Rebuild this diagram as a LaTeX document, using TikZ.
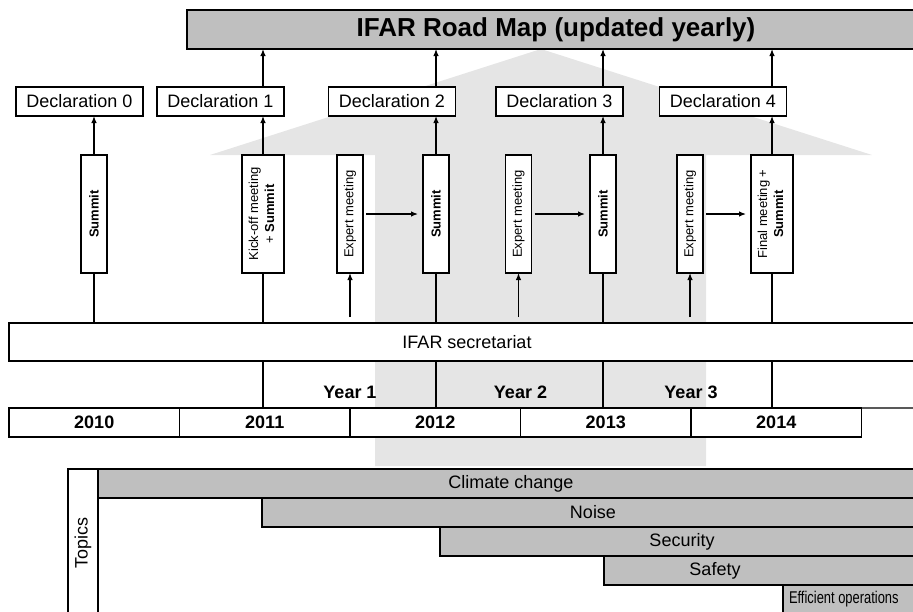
\documentclass[tikz,border=0pt]{standalone}
\usepackage{fontspec}
\setmainfont{Liberation Sans}
\newfontfamily\narrowsans[FakeStretch=0.76]{Liberation Sans}
\usetikzlibrary{arrows.meta}

\begin{document}
\begin{tikzpicture}[x=1pt, y=-1pt,
    every node/.style={inner sep=0pt, outer sep=0pt},
    box/.style={draw, line width=1.2pt, fill=white},
    decl/.style={box, minimum width=127pt, minimum height=29pt, font=\fontsize{18}{21}\selectfont},
    meet/.style={box, minimum width=26pt, minimum height=118pt, font=\fontsize{13}{16}\selectfont},
    wmeet/.style={meet, minimum width=42pt},
    yearbox/.style={draw, line width=1.6pt, fill=white, minimum width=170.5pt, minimum height=29pt, font=\bfseries\fontsize{18}{21}\selectfont},
    yearlbl/.style={anchor=base, font=\bfseries\fontsize{18}{21}\selectfont},
    topic/.style={draw, line width=1.2pt, fill=gray!50, minimum height=29pt, anchor=west, font=\fontsize{18}{21}\selectfont},
    arr/.style={-{Latex[length=7pt,width=5.5pt]}, line width=1.2pt},
    post/.style={line width=2.5pt}
]
    \useasboundingbox (0,0) rectangle (913,611);
    \clip (0,0) rectangle (913,611);

    % big arrow behind
    \fill[gray!20] (375,466) -- (375,155) -- (210,155) -- (541,49) -- (872,155) -- (706,155) -- (706,466) -- cycle;

    \node[draw, line width=1.2pt, fill=gray!50, minimum width=738pt, minimum height=39pt, font=\bfseries\fontsize{26}{30}\selectfont] (map) at (556,29.5) {IFAR Road Map (updated yearly)};

    \node[decl] (dec0) at (79.5,101.5) {Declaration 0};
    \node[decl] (dec1) at (220.5,101.5) {Declaration 1};
    \node[decl] (dec2) at (392,101.5) {Declaration 2};
    \node[decl] (dec3) at (559.5,101.5) {Declaration 3};
    \node[decl] (dec4) at (723,101.5) {Declaration 4};

    \node[meet] (sum0) at (94,214) {\rotatebox{90}{\bfseries Summit}};
    \node[wmeet] (kick) at (263,214) {\rotatebox{90}{\begin{tabular}{@{}c@{}}Kick-off meeting\\+ \textbf{Summit}\end{tabular}}};
    \node[meet] (exp1) at (350,214) {\rotatebox{90}{Expert meeting}};
    \node[meet] (sum2) at (436,214) {\rotatebox{90}{\bfseries Summit}};
    \node[meet] (exp2) at (518.5,214) {\rotatebox{90}{Expert meeting}};
    \node[meet] (sum3) at (603,214) {\rotatebox{90}{\bfseries Summit}};
    \node[meet] (exp3) at (690,214) {\rotatebox{90}{Expert meeting}};
    \node[wmeet] (fin) at (772,214) {\rotatebox{90}{\begin{tabular}{@{}c@{}}Final meeting +\\\textbf{Summit}\end{tabular}}};

    \node[box, minimum width=916pt, minimum height=38pt, font=\fontsize{18}{21}\selectfont] (sec) at (467,342) {IFAR secretariat};

    \foreach \yr [count=\i from 0] in {2010,2011,2012,2013,2014}
        \node[yearbox] (y\yr) at (94.25+170.5*\i,422.5) {\yr};
    \draw[line width=1.2pt, gray!70!black] (y2014.north east) -- ++(60,0);

    \node[yearlbl] (yr1) at ([yshift=10pt]y2011.north east) {Year 1};
    \node[yearlbl] (yr2) at ([yshift=10pt]y2012.north east) {Year 2};
    \node[yearlbl] (yr3) at ([yshift=10pt]y2013.north east) {Year 3};

    % connectors
    \foreach \s/\d in {sum0/dec0,kick/dec1,sum2/dec2,sum3/dec3,fin/dec4}
        \draw[arr] (\s.north) -- (\s.north |- \d.south);
    \foreach \s/\d in {kick/dec1,sum2/dec2,sum3/dec3,fin/dec4}
        \draw[arr] (\s.north |- \d.north) -- (\s.north |- map.south);
    \foreach \s in {sum0,kick,sum2,sum3,fin}
        \draw[post] (\s.south) -- (\s.south |- sec.north);
    \foreach \s in {kick,sum2,sum3,fin}
        \draw[post] (\s.south |- sec.south) -- (\s.south |- y2010.north);
    \foreach \e/\s in {exp1/sum2,exp2/sum3,exp3/fin} {
        \coordinate (\e-in) at ([yshift=-44pt]\e.south);
        \draw[arr] (\e-in) -- (\e.south);
        \draw[arr, shorten <=3pt, shorten >=5pt] (\e.east) -- (\s.west);
    }

    % topics
    \node[draw, line width=1.2pt, minimum width=30pt, minimum height=148pt, font=\fontsize{18}{21}\selectfont] (topics) at (83,543) {\rotatebox{90}{Topics}};
    \node[topic, minimum width=826pt] (clim) at (98,483.5) {Climate change};
    \node[topic, minimum width=662pt] (noise) at (262,512.5) {Noise};
    \node[topic, minimum width=484pt] (secu) at (440,541.5) {Security};
    \node[topic, minimum width=320pt, label={[xshift=-49pt, font=\fontsize{18}{21}\selectfont]center:Safety}] (safe) at (604,570.5) {};
    \node[topic, minimum width=141pt, label={[anchor=west, xshift=6pt, font=\narrowsans\fontsize{17}{20}\selectfont]west:Efficient operations}] (eff) at (783,599.5) {};
\end{tikzpicture}
\end{document}
